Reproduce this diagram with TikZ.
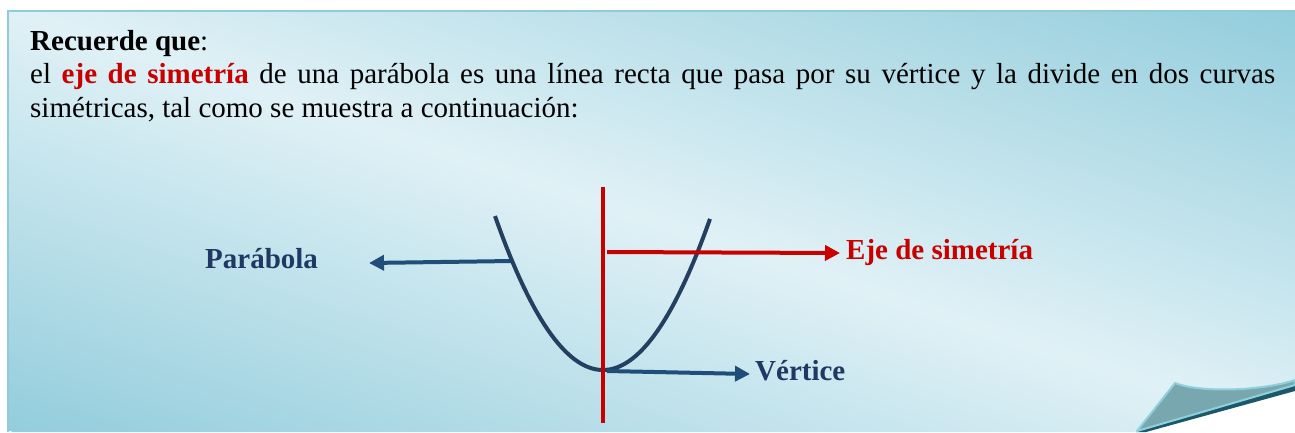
\documentclass[tikz,border=0pt]{standalone}
\usepackage{fontspec}
\setmainfont{Liberation Serif}
\usetikzlibrary{arrows.meta}
\definecolor{bgdark}{RGB}{147,205,220}
\definecolor{bglight}{RGB}{224,241,246}
\definecolor{bordercol}{RGB}{143,203,217}
\definecolor{axisred}{RGB}{200,0,0}
\definecolor{navy}{RGB}{31,56,100}
\definecolor{curvecol}{RGB}{36,63,96}
\definecolor{arrowblue}{RGB}{31,78,121}
\definecolor{flapcol}{RGB}{121,167,176}
\definecolor{flapedge}{RGB}{143,208,221}
\definecolor{shadowcol}{RGB}{28,88,104}
\begin{document}
\begin{tikzpicture}[x=1pt,y=-1pt,
  maintext/.style={anchor=base west,inner sep=0pt,font=\fontsize{29}{33}\selectfont},
  labeltext/.style={anchor=base west,inner sep=0pt,font=\fontsize{29}{33}\selectfont\bfseries},
  bluearrow/.style={draw=arrowblue,line width=4pt,-{Triangle[length=15pt,width=15pt]}},
  redarrow/.style={draw=axisred,line width=4pt,-{Triangle[length=15pt,width=15pt]}}]
\useasboundingbox (0,0) rectangle (1295,432);
\fill[white] (0,0) rectangle (1295,432);
% page background with gradient
\begin{scope}
  \clip (8,11) -- (1295,11) -- (1295,380) .. controls (1262,391) and (1200,393) .. (1175,383) -- (1135,432) -- (8,432) -- cycle;
  \coordinate (ctr) at (651.5,221.5);
  \shade[top color=bgdark,bottom color=bgdark,middle color=bglight,
    transform canvas={rotate around={-18.1:(ctr)}}]
    (-500,-180) rectangle (1800,620);
\end{scope}
\draw[bordercol,line width=2pt] (8,432) -- (8,11) -- (1295,11);
% page curl
\fill[shadowcol] (1295,385) -- (1295,391) -- (1146,432) -- (1136,432) -- cycle;
\filldraw[fill=flapcol,draw=flapedge,line width=2pt,line join=round]
  (1175,383) .. controls (1200,393) and (1262,391) .. (1295,380) -- (1295,385) -- (1137,431) -- cycle;
% texts
\node[maintext] (t1) at (30,50) {\textbf{Recuerde que}:};
\node[maintext] (t2) at (30,83) {\makebox[1245pt][s]{el \textcolor{axisred}{\textbf{eje de simetría}} de una parábola es una línea recta que pasa por su vértice y la divide en dos curvas}};
\node[maintext] (t3) at (30,117) {simétricas, tal como se muestra a continuación:};
% labels
\node[labeltext,text=navy] (lparab) at (205,268) {Parábola};
\node[labeltext,text=axisred] (leje) at (846,259) {Eje de simetría};
\node[labeltext,text=navy] (lvert) at (755,380) {Vértice};
% geometry
\coordinate (pstart) at (512,261);
\coordinate (ptip) at (369,263);
\coordinate (estart) at (607,252);
\coordinate (etip) at (840,253);
\coordinate (vstart) at (607,371);
\coordinate (vtip) at (750,374);
\coordinate (atop) at (603,187);
\coordinate (abot) at (603,423);
\draw[bluearrow] (pstart) -- (ptip);
\draw[curvecol,line width=4pt] plot[domain=-108:107,samples=80] ({603+\x},{370-0.0132*\x*\x});
\draw[redarrow] (estart) -- (etip);
\draw[bluearrow] (vstart) -- (vtip);
\draw[axisred,line width=4pt] (atop) -- (abot);
\end{tikzpicture}
\end{document}
